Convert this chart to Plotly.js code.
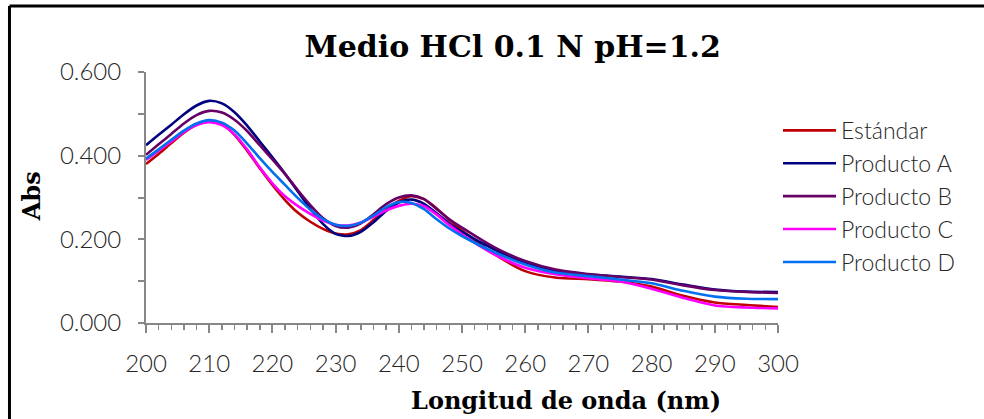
<!DOCTYPE html>
<html>
<head>
<meta charset="utf-8">
<script src="https://cdn.plot.ly/plotly-3.0.1.min.js"></script>
<style>
  html, body { margin: 0; padding: 0; background: #ffffff; overflow: hidden; }
  #chart { width: 984px; height: 419px; }
</style>
</head>
<body>
<div id="chart"></div>
<script>
// Wavelength grid (nm)
const wavelength = [200, 202, 204, 206, 208, 210, 212, 214, 216, 218, 220, 222, 224, 226, 228,
  230, 232, 234, 236, 238, 240, 242, 244, 246, 248, 250,
  255, 260, 265, 270, 275, 280, 285, 290, 295, 300];

// Absorbance of each sample
const estandar = [0.380, 0.404, 0.430, 0.455, 0.474, 0.482, 0.476, 0.450, 0.412, 0.370, 0.330, 0.294, 0.264, 0.242, 0.225,
  0.214, 0.212, 0.222, 0.246, 0.272, 0.292, 0.303, 0.296, 0.274, 0.246, 0.221,
  0.166, 0.124, 0.108, 0.105, 0.099, 0.087, 0.065, 0.049, 0.043, 0.038];

const productoA = [0.425, 0.450, 0.474, 0.499, 0.520, 0.531, 0.525, 0.504, 0.472, 0.434, 0.396, 0.357, 0.315, 0.273, 0.237,
  0.213, 0.208, 0.218, 0.241, 0.268, 0.288, 0.295, 0.285, 0.262, 0.238, 0.218,
  0.177, 0.145, 0.124, 0.116, 0.111, 0.105, 0.092, 0.080, 0.075, 0.074];

const productoB = [0.402, 0.427, 0.452, 0.477, 0.497, 0.507, 0.503, 0.486, 0.459, 0.425, 0.391, 0.356, 0.318, 0.282, 0.251,
  0.232, 0.228, 0.238, 0.260, 0.284, 0.300, 0.305, 0.296, 0.272, 0.248, 0.228,
  0.182, 0.148, 0.127, 0.117, 0.110, 0.104, 0.090, 0.079, 0.074, 0.072];

const productoC = [0.390, 0.412, 0.434, 0.456, 0.473, 0.480, 0.473, 0.451, 0.415, 0.372, 0.334, 0.303, 0.280, 0.261, 0.245,
  0.235, 0.233, 0.240, 0.254, 0.269, 0.280, 0.285, 0.279, 0.259, 0.234, 0.212,
  0.165, 0.132, 0.116, 0.107, 0.099, 0.082, 0.060, 0.042, 0.037, 0.035];

const productoD = [0.393, 0.415, 0.438, 0.460, 0.477, 0.485, 0.479, 0.460, 0.429, 0.394, 0.361, 0.330, 0.299, 0.271, 0.249,
  0.235, 0.232, 0.240, 0.257, 0.277, 0.289, 0.287, 0.272, 0.248, 0.226, 0.208,
  0.170, 0.140, 0.120, 0.112, 0.104, 0.095, 0.077, 0.063, 0.058, 0.057];

const seriesNames = ['Estándar', 'Producto A', 'Producto B', 'Producto C', 'Producto D'];
const seriesValues = [estandar, productoA, productoB, productoC, productoD];
const seriesColors = ['#C00000', '#000080', '#660066', '#FF00FF', '#0070F0'];

const axisGrey = '#878787';
const tickFont = { family: 'Lato, DejaVu Sans, sans-serif', size: 24, color: '#262626', weight: 300 };
const legendFont = { family: 'Lato, DejaVu Sans, sans-serif', size: 23, color: '#262626', weight: 300 };
const serifBold = 'DejaVu Serif, Liberation Serif, serif';

const traces = seriesValues.map((vals, i) => ({
  type: 'scatter',
  mode: 'lines',
  name: seriesNames[i],
  x: wavelength,
  y: vals,
  line: { color: seriesColors[i], width: 2.6, shape: 'spline', smoothing: 0.7 },
  hoverinfo: 'x+y+name'
}));

const layout = {
  width: 984,
  height: 419,
  margin: { l: 146, r: 206, t: 72, b: 96 },
  paper_bgcolor: '#ffffff',
  plot_bgcolor: '#ffffff',
  showlegend: true,
  title: {
    text: 'Medio HCl 0.1 N pH=1.2',
    font: { family: serifBold, size: 30, color: '#000000', weight: 'bold' },
    x: 0.521, xanchor: 'center',
    y: 0.888, yanchor: 'middle'
  },
  xaxis: {
    range: [200, 300],
    tick0: 200, dtick: 10,
    ticks: 'outside', ticklen: 8, tickwidth: 2, tickcolor: axisGrey,
    minor: { dtick: 2, ticks: 'outside', ticklen: 5, tickwidth: 1.5, tickcolor: axisGrey, showgrid: false },
    showline: true, linecolor: axisGrey, linewidth: 2,
    showgrid: false, zeroline: false,
    tickfont: tickFont,
    ticklabelstandoff: 10
  },
  xaxis2: {
    overlaying: 'x', anchor: 'y', side: 'bottom',
    range: [200, 300],
    tick0: 200, dtick: 10,
    ticks: 'inside', ticklen: 6, tickwidth: 2, tickcolor: axisGrey,
    showticklabels: false, showline: false, showgrid: false, zeroline: false
  },
  yaxis: {
    range: [0, 0.6],
    tick0: 0, dtick: 0.2,
    tickformat: '.3f',
    ticks: 'outside', ticklen: 6, tickwidth: 2, tickcolor: axisGrey,
    minor: { dtick: 0.1, ticks: 'outside', ticklen: 6, tickwidth: 2, tickcolor: axisGrey, showgrid: false },
    showline: true, linecolor: axisGrey, linewidth: 2,
    showgrid: false, zeroline: false,
    tickfont: tickFont,
    ticklabelstandoff: 12
  },
  legend: {
    x: 1.0, xanchor: 'left',
    y: 0.853, yanchor: 'top',
    font: legendFont,
    itemwidth: 53,
    tracegroupgap: 0,
    bgcolor: 'rgba(0,0,0,0)',
    borderwidth: 0
  },
  annotations: [
    {
      text: 'Abs', textangle: -90,
      xref: 'paper', yref: 'paper',
      x: -0.182, y: 0.505, xanchor: 'center', yanchor: 'middle',
      showarrow: false,
      font: { family: serifBold, size: 24, color: '#000000', weight: 'bold' }
    },
    {
      text: 'Longitud de onda (nm)',
      xref: 'paper', yref: 'paper',
      x: 0.665, y: -0.307, xanchor: 'center', yanchor: 'middle',
      showarrow: false,
      font: { family: serifBold, size: 24, color: '#000000', weight: 'bold' }
    }
  ],
  shapes: [
    // chart frame: top and left edges
    {
      type: 'line', xref: 'paper', yref: 'paper',
      x0: -0.216, x1: 1.33, y0: 1.263, y1: 1.263,
      line: { color: '#000000', width: 3 }
    },
    {
      type: 'line', xref: 'paper', yref: 'paper',
      x0: -0.216, x1: -0.216, y0: -0.6, y1: 1.263,
      line: { color: '#000000', width: 3 }
    }
  ]
};

Plotly.newPlot('chart', traces, layout, { staticPlot: true, displayModeBar: false });
</script>
</body>
</html>
